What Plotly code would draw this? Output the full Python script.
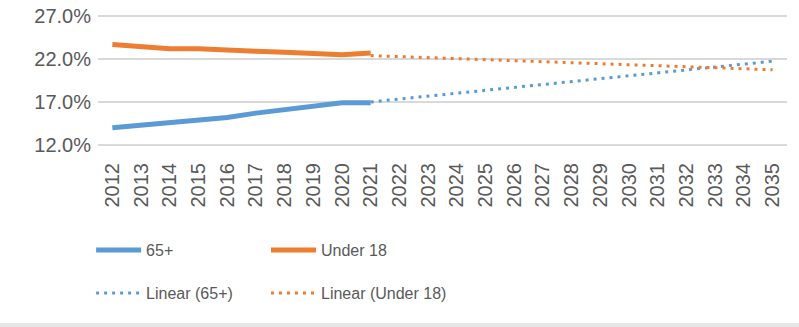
import plotly.graph_objects as go

years = [str(y) for y in range(2012, 2036)]
actual_years = [str(y) for y in range(2012, 2022)]
pct_65 = [14.0, 14.3, 14.5, 14.9, 15.2, 15.7, 16.1, 16.5, 16.9, 16.9]
pct_u18 = [23.7, 23.5, 23.2, 23.2, 23.0, 22.9, 22.8, 22.7, 22.5, 22.7]
trend_years = ["2021", "2035"]
trend_65 = [17.0, 21.75]
trend_u18 = [22.4, 20.75]
y_ticks = [12, 17, 22, 27]

BLUE = "#5B9BD5"
ORANGE = "#ED7D31"
GRAY = "#595959"
FONT = "Liberation Sans, Arial, sans-serif"

H_PLOT = 133.0
B_PIX = 147.0

fig = go.Figure()
fig.add_trace(go.Scatter(x=trend_years, y=trend_65, mode="lines", name="Linear (65+)",
                         line=dict(color=BLUE, width=3, dash="3px,5px"), legend="legend3"))
fig.add_trace(go.Scatter(x=trend_years, y=trend_u18, mode="lines", name="Linear (Under 18)",
                         line=dict(color=ORANGE, width=3, dash="3px,5px"), legend="legend4"))
fig.add_trace(go.Scatter(x=actual_years, y=pct_65, mode="lines", name="65+",
                         line=dict(color=BLUE, width=5), legend="legend", showlegend=True))
fig.add_trace(go.Scatter(x=actual_years, y=pct_u18, mode="lines", name="Under 18",
                         line=dict(color=ORANGE, width=5), legend="legend2"))

leg_common = dict(orientation="h", xanchor="left", yanchor="middle",
                  font=dict(family=FONT, size=16, color=GRAY),
                  bgcolor="rgba(0,0,0,0)", itemwidth=45)

def ly(pix):
    return -(pix - B_PIX) / H_PLOT

x_col1 = -0.01
x_col2 = (266 - 98) / 689

fig.update_layout(
    width=799, height=327,
    showlegend=True,
    margin=dict(l=98, r=12, t=14, b=180, autoexpand=False),
    paper_bgcolor="white", plot_bgcolor="white",
    font=dict(family=FONT, color=GRAY),
    xaxis=dict(type="category", categoryorder="array", categoryarray=years,
               range=[-0.5, len(years) - 0.5], tickangle=-90, showgrid=False,
               tickfont=dict(family=FONT, size=20, color=GRAY), automargin=False,
               ticks="", ticklabelstandoff=11, showline=False, zeroline=False),
    yaxis=dict(range=[11.75, 27.25], tickvals=y_ticks, automargin=False,
               ticktext=[f"{v:.1f}%" for v in y_ticks],
               tickfont=dict(family=FONT, size=20, color=GRAY),
               gridcolor="#D9D9D9", gridwidth=1.5, zeroline=False, showline=False,
               ticks="", ticklabelstandoff=6),
    legend=dict(x=x_col1, y=ly(250), **leg_common),
    legend2=dict(x=x_col2, y=ly(250), **leg_common),
    legend3=dict(x=x_col1, y=ly(293), **leg_common),
    legend4=dict(x=x_col2, y=ly(293), **leg_common),
    shapes=[dict(type="rect", xref="paper", yref="paper",
                 x0=-98 / 689, x1=701 / 689, y0=ly(327), y1=ly(323),
                 fillcolor="#E6E6E6", line=dict(width=0), layer="below")],
)

fig.write_html("out.html")
